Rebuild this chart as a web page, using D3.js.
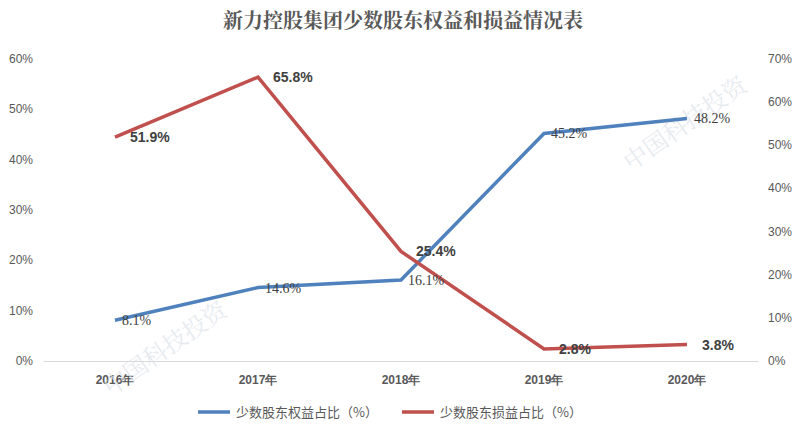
<!DOCTYPE html><html><head><meta charset="utf-8"><script src="https://cdn.jsdelivr.net/npm/d3@7"></script>
<style>body{margin:0;background:#fff}</style></head><body><svg id="c" width="806" height="441"></svg>
<script>
const categories=["2016年","2017年","2018年","2019年","2020年"];
const equityShare=[8.1,14.6,16.1,45.2,48.2];
const profitShare=[51.9,65.8,25.4,2.8,3.8];
const leftTicks=[0,10,20,30,40,50,60];
const rightTicks=[0,10,20,30,40,50,60,70];
const svg=d3.select("#c");
const x=d3.scaleBand().domain(categories).range([43.5,758.5]);
const yl=d3.scaleLinear().domain([0,60]).range([361,59]);
const yr=d3.scaleLinear().domain([0,70]).range([361,59]);
const cx=d=>x(d)+x.bandwidth()/2;
svg.append("text").attr("x",403).attr("y",28).attr("text-anchor","middle").attr("font-family","Noto Serif CJK SC, Noto Sans CJK SC, serif").attr("font-weight","bold").attr("font-size",20).attr("fill","#595959").text("新力控股集团少数股东权益和损益情况表");
svg.append("line").attr("x1",43.5).attr("x2",758.5).attr("y1",361.5).attr("y2",361.5).attr("stroke","#d9d9d9");
const fs="Liberation Sans, Arial, sans-serif";
svg.selectAll(".lt").data(leftTicks).join("text").attr("x",33).attr("y",d=>yl(d)+4).attr("text-anchor","end").attr("font-family",fs).attr("font-size",12).attr("fill","#595959").text(d=>d+"%");
svg.selectAll(".rt").data(rightTicks).join("text").attr("x",768).attr("y",d=>yr(d)+4).attr("font-family",fs).attr("font-size",12).attr("fill","#595959").text(d=>d+"%");
svg.selectAll(".xt").data(categories).join("text").attr("x",cx).attr("y",384).attr("text-anchor","middle").attr("font-family",fs).attr("font-weight","bold").attr("font-size",12).attr("fill","#595959").text(d=>d);
[[170,355],[690,130]].forEach(([a,b])=>svg.append("text").attr("transform",`translate(${a},${b}) rotate(-35)`).attr("text-anchor","middle").attr("font-family","Noto Serif CJK SC, serif").attr("font-size",24).attr("fill","#dde3ea").attr("opacity",0.7).text("中国科技投资"));
const line=(ys)=>d3.line().x((d,i)=>cx(categories[i])).y(d=>ys(d));
svg.append("path").datum(equityShare).attr("d",line(yl)).attr("fill","none").attr("stroke","#4f81bd").attr("stroke-width",3.5);
svg.append("path").datum(profitShare).attr("d",line(yr)).attr("fill","none").attr("stroke","#c0504d").attr("stroke-width",3.5);
svg.selectAll(".bl").data(equityShare).join("text").attr("x",(d,i)=>cx(categories[i])+7).attr("y",d=>yl(d)+5).attr("font-family","Liberation Serif, serif").attr("font-size",14).attr("fill","#404040").text(d=>d.toFixed(1)+"%");
svg.selectAll(".rl").data(profitShare).join("text").attr("x",(d,i)=>cx(categories[i])+15).attr("y",d=>yr(d)+5).attr("font-family",fs).attr("font-weight","bold").attr("font-size",14).attr("fill","#404040").text(d=>d.toFixed(1)+"%");
const lg=[["少数股东权益占比（%）","#4f81bd",198],["少数股东损益占比（%）","#c0504d",402]];
lg.forEach(([t,c,x0])=>{svg.append("line").attr("x1",x0).attr("x2",x0+32).attr("y1",412).attr("y2",412).attr("stroke",c).attr("stroke-width",3.5);
svg.append("text").attr("x",x0+38).attr("y",417).attr("font-family","Noto Sans CJK SC, sans-serif").attr("font-size",13).attr("fill","#595959").text(t);});
</script></body></html>
